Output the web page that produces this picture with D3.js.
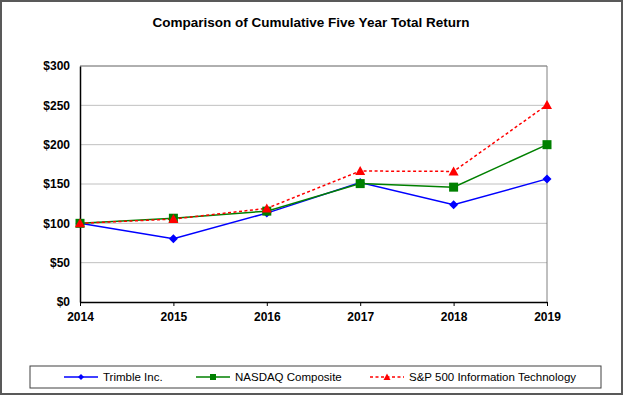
<!DOCTYPE html>
<html><head><meta charset="utf-8">
<script src="https://cdn.jsdelivr.net/npm/d3@7"></script>
<style>
html,body{margin:0;padding:0;background:#fff;}
svg{display:block;font-family:"Liberation Sans",Arial,sans-serif;}
</style></head>
<body>
<svg id="c" width="625" height="396"></svg>
<script>
const years = ["2014","2015","2016","2017","2018","2019"];
const trimble = [100, 80.5, 113, 152, 123.5, 156.5];
const nasdaq = [100, 106.5, 115.5, 150.5, 146, 200];
const spit = [100, 105.5, 119, 166.5, 166, 250.5];
const yTicks = [0, 50, 100, 150, 200, 250, 300];
const seriesNames = ["Trimble Inc.", "NASDAQ Composite", "S&P 500 Information Technology"];

const svg = d3.select("#c");
const W = 625, H = 396;
const m = {left: 80, right: 547, top: 66, bottom: 302};

// outer frame
svg.append("rect").attr("x",1).attr("y",1).attr("width",W-4).attr("height",H-3)
  .attr("fill","#fff").attr("stroke","#595959").attr("stroke-width",2);

svg.append("text").attr("x",311).attr("y",27).attr("text-anchor","middle")
  .attr("font-size","13.5px").attr("font-weight","bold").attr("fill","#000")
  .text("Comparison of Cumulative Five Year Total Return");

const x = d3.scalePoint().domain(years).range([m.left, m.right]);
const y = d3.scaleLinear().domain([0,300]).range([m.bottom, m.top]);

// gridlines
svg.append("g").selectAll("line").data(yTicks.filter(d=>d>0)).join("line")
  .attr("x1",m.left).attr("x2",m.right)
  .attr("y1",d=>y(d)).attr("y2",d=>y(d))
  .attr("stroke","#c0c0c0").attr("stroke-width",1);
// plot border top/right
svg.append("line").attr("x1",m.left).attr("x2",m.right).attr("y1",m.top).attr("y2",m.top)
  .attr("stroke","#808080").attr("stroke-width",1);
svg.append("line").attr("x1",m.right).attr("x2",m.right).attr("y1",m.top).attr("y2",m.bottom)
  .attr("stroke","#808080").attr("stroke-width",1);

// y axis
const yAxis = svg.append("g").attr("transform",`translate(${m.left},0)`)
  .call(d3.axisLeft(y).tickValues(yTicks).tickSize(0).tickPadding(10).tickFormat(d=>"$"+d));
yAxis.select(".domain").attr("stroke","#000").attr("stroke-width",1.5);
yAxis.selectAll("text").attr("font-size","12px").attr("font-weight","bold")
  .attr("font-family","Liberation Sans, Arial, sans-serif").attr("fill","#000");

// x axis
const xAxis = svg.append("g").attr("transform",`translate(0,${m.bottom})`)
  .call(d3.axisBottom(x).tickSizeInner(4).tickSizeOuter(0).tickPadding(6));
xAxis.select(".domain").attr("stroke","#000").attr("stroke-width",1.5);
xAxis.selectAll(".tick line").attr("stroke","#000");
xAxis.selectAll("text").attr("font-size","12px").attr("font-weight","bold")
  .attr("font-family","Liberation Sans, Arial, sans-serif").attr("fill","#000");

const series = [
  {name: seriesNames[0], vals: trimble, color: "#0000ff", dash: null, sym: "diamond"},
  {name: seriesNames[1], vals: nasdaq, color: "#008000", dash: null, sym: "square"},
  {name: seriesNames[2], vals: spit, color: "#ff0000", dash: "3,2.5", sym: "triangle"}
];
function marker(g, sym, color, cx, cy){
  if(sym==="diamond"){
    g.append("path").attr("d",`M${cx},${cy-4.5}L${cx+4.5},${cy}L${cx},${cy+4.5}L${cx-4.5},${cy}Z`).attr("fill",color);
  } else if(sym==="square"){
    g.append("rect").attr("x",cx-4.5).attr("y",cy-4.5).attr("width",9).attr("height",9).attr("fill",color);
  } else {
    g.append("path").attr("d",`M${cx},${cy-5}L${cx+5},${cy+4}L${cx-5},${cy+4}Z`).attr("fill",color);
  }
}
const line = d3.line().x((d,i)=>x(years[i])).y(d=>y(d));
series.forEach(s=>{
  svg.append("path").datum(s.vals).attr("d",line).attr("fill","none")
    .attr("stroke",s.color).attr("stroke-width",1.5)
    .attr("stroke-dasharray",s.dash);
});
series.forEach(s=>{
  const g = svg.append("g");
  s.vals.forEach((v,i)=>marker(g,s.sym,s.color,x(years[i]),y(v)));
});

// legend
svg.append("rect").attr("x",30).attr("y",366).attr("width",571).attr("height",22)
  .attr("fill","#fff").attr("stroke","#404040").attr("stroke-width",1);
const legX = [64, 196, 370];
series.forEach((s,i)=>{
  const g = svg.append("g");
  const lx = legX[i], ly = 377;
  g.append("line").attr("x1",lx).attr("x2",lx+34).attr("y1",ly).attr("y2",ly)
    .attr("stroke",s.color).attr("stroke-width",1.5).attr("stroke-dasharray",s.dash);
  if(s.sym==="diamond"){
    g.append("path").attr("d",`M${lx+17},${ly-3}L${lx+20},${ly}L${lx+17},${ly+3}L${lx+14},${ly}Z`).attr("fill",s.color);
  } else if(s.sym==="square"){
    g.append("rect").attr("x",lx+14).attr("y",ly-3).attr("width",6).attr("height",6).attr("fill",s.color);
  } else {
    g.append("path").attr("d",`M${lx+17},${ly-3.5}L${lx+20.5},${ly+3}L${lx+13.5},${ly+3}Z`).attr("fill",s.color);
  }
  g.append("text").attr("x",lx+39).attr("y",ly+4).attr("font-size","11.5px").attr("fill","#000").text(s.name);
});
</script>
</body></html>
